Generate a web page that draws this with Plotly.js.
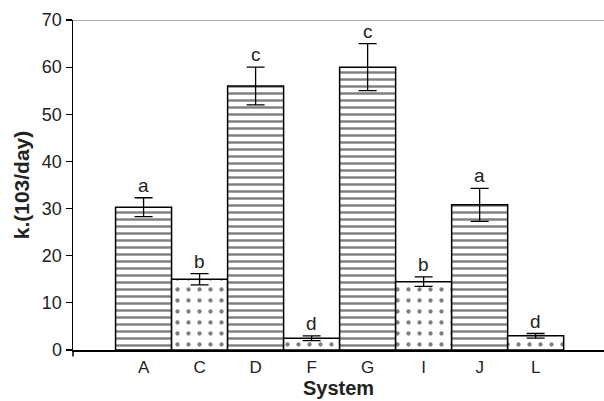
<!DOCTYPE html>
<html>
<head>
<meta charset="utf-8">
<script src="https://cdn.plot.ly/plotly-3.0.1.min.js"></script>
<style>html,body{margin:0;padding:0;background:#fff;}#chart{width:604px;height:401px;}</style>
</head>
<body>
<div id="chart"></div>
<script>
const categories = ["A", "C", "D", "F", "G", "I", "J", "L"];
const rateValues = [30.3, 15.0, 56.0, 2.5, 60.0, 14.5, 30.8, 3.0];
const rateErrors = [2.0, 1.2, 4.0, 0.5, 5.0, 1.0, 3.5, 0.5];
const groupLetters = ["a", "b", "c", "d", "c", "b", "a", "d"];
const patternShapes = ["-", ".", "-", ".", "-", ".", "-", "."];

const FONT = "Liberation Sans, Arial, Helvetica, sans-serif";

const trace = {
  type: "bar",
  x: categories,
  y: rateValues,
  error_y: {type: "data", array: rateErrors, visible: true, color: "#000", thickness: 1.3, width: 9},
  marker: {
    color: "#fff",
    line: {color: "#000", width: 1.5},
    pattern: {
      shape: patternShapes,
      fgcolor: "#000",
      bgcolor: "#fff",
      size: patternShapes.map(s => s === "-" ? 7 : 11),
      solidity: patternShapes.map(s => s === "-" ? 0.35 : 0.12),
      fillmode: "overlay"
    }
  },
  hoverinfo: "none"
};

const annotations = categories.map((c, i) => ({
  x: c,
  y: rateValues[i] + rateErrors[i],
  xref: "x", yref: "y",
  text: groupLetters[i],
  showarrow: false,
  yanchor: "bottom",
  yshift: 0,
  font: {family: FONT, size: 19, color: "#222"}
}));

const layout = {
  width: 604, height: 401,
  margin: {l: 73, r: 0, t: 20, b: 51},
  paper_bgcolor: "#fff", plot_bgcolor: "#fff",
  bargap: 0,
  showlegend: false,
  font: {family: FONT, color: "#222"},
  xaxis: {
    type: "category",
    range: [-1.26, 8.22],
    showline: true, linecolor: "#000", linewidth: 1.5,
    ticks: "", showgrid: false, zeroline: false,
    tickfont: {size: 17, color: "#222"},
    ticklabelstandoff: 1,
    title: {text: "<b>System</b>", font: {size: 20, color: "#222"}, standoff: 5}
  },
  yaxis: {
    range: [0, 70],
    tickvals: [0, 10, 20, 30, 40, 50, 60, 70],
    showline: true, linecolor: "#000", linewidth: 1.5,
    ticks: "outside", ticklen: 6, tickwidth: 1.2, tickcolor: "#000",
    showgrid: false, zeroline: false,
    tickfont: {size: 18, color: "#222"},
    title: {text: "<b>k.(103/day)</b>", font: {size: 21, color: "#222"}, standoff: 6}
  },
  shapes: [
    {type: "line", xref: "paper", yref: "y", x0: 0, x1: 1, y0: 70, y1: 70,
     line: {color: "#999", width: 1.5}},
    {type: "line", xref: "paper", yref: "paper", x0: 0, x1: 0, y0: 0, y1: -0.02,
     line: {color: "#000", width: 1.5}}
  ],
  annotations: annotations
};

Plotly.newPlot("chart", [trace], layout, {staticPlot: true, displayModeBar: false});
</script>
</body>
</html>
